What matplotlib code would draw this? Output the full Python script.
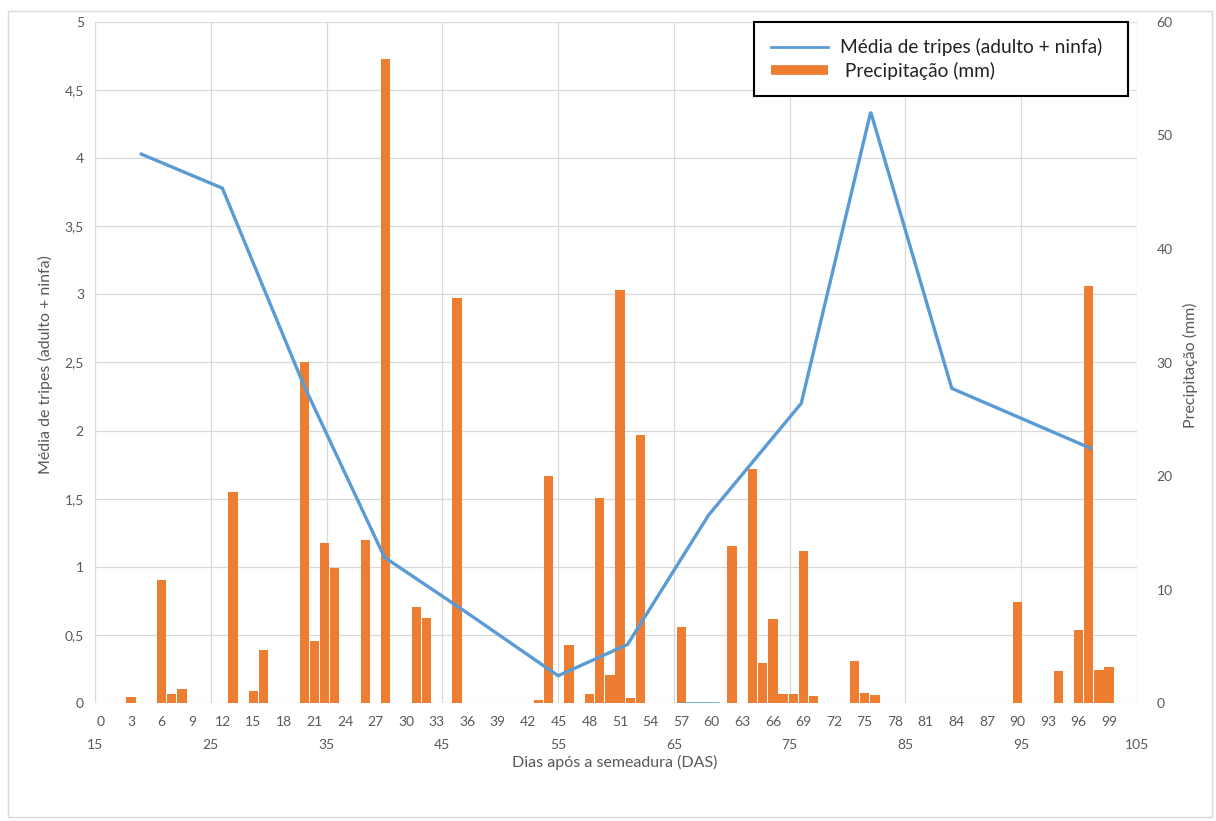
import numpy as np
import matplotlib.pyplot as plt
from matplotlib.lines import Line2D
from matplotlib.patches import Rectangle

plt.rcParams['font.family'] = ['Lato', 'DejaVu Sans']

# ---------------- data ----------------
rain_days = [3, 6, 7, 8, 13, 15, 16, 20, 21, 22, 23, 26, 28, 31, 32, 35,
             43, 44, 46, 48, 49, 50, 51, 52, 53, 57, 62, 64, 65, 66, 67, 68,
             69, 70, 74, 75, 76, 90, 94, 96, 97, 98, 99]
rain_mm = [0.5, 10.8, 0.8, 1.2, 18.6, 1.1, 4.7, 30.0, 5.5, 14.1, 11.9, 14.4,
           56.7, 8.5, 7.5, 35.7, 0.3, 20.0, 5.1, 0.8, 18.1, 2.5, 36.4, 0.4,
           23.6, 6.7, 13.8, 20.6, 3.5, 7.4, 0.8, 0.8, 13.4, 0.6, 3.7, 0.9,
           0.7, 8.9, 2.8, 6.4, 36.7, 2.9, 3.2]

das = [19, 26, 33, 40, 47, 55, 61, 68, 76, 82, 89, 101]
thrips_mean = [4.03, 3.78, 2.34, 1.07, 0.67, 0.20, 0.43, 1.38, 2.20, 4.34, 2.31, 1.87]

# short flat segment at zero that shows up in the original chart
zero_das = [65.5, 68.8]
zero_vals = [0.0, 0.0]

day_ticks = list(range(0, 100, 3))
das_ticks = list(range(15, 106, 10))
left_ticks = [0, 0.5, 1, 1.5, 2, 2.5, 3, 3.5, 4, 4.5, 5]
right_ticks = [0, 10, 20, 30, 40, 50, 60]

# ---------------- style ----------------
BLUE = '#5B9BD5'
ORANGE = '#ED7D31'
GRID = '#D9D9D9'
TXT = '#595959'
TICK_FS = 10
TITLE_FS = 11.5

W, H = 1216, 821
fig = plt.figure(figsize=(W / 100, H / 100), dpi=100)
rect = [95 / W, 118 / H, 1042 / W, 681 / H]

# bottom axes: line coordinates, gridlines, left y axis, second x row
ax_grid = fig.add_axes(rect)
ax_grid.set_xlim(15, 105)
ax_grid.set_ylim(0, 5)
ax_grid.set_xticks(das_ticks)
ax_grid.set_yticks(left_ticks)
ax_grid.set_yticklabels([f'{v:g}'.replace('.', ',') for v in left_ticks])
ax_grid.grid(True, color=GRID, lw=0.9)
ax_grid.set_axisbelow(True)
for s in ax_grid.spines.values():
    s.set_visible(False)
ax_grid.tick_params(axis='x', length=0, pad=26, labelsize=TICK_FS, colors=TXT)
ax_grid.tick_params(axis='y', length=0, pad=8, labelsize=TICK_FS, colors=TXT)

# middle axes: precipitation bars, right y axis, first x row
ax_bar = fig.add_axes(rect, facecolor='none')
ax_bar.bar(rain_days, rain_mm, width=0.92, color=ORANGE, zorder=2)
ax_bar.set_xlim(-0.53, 101.73)
ax_bar.set_ylim(0, 60)
ax_bar.set_xticks(day_ticks)
ax_bar.yaxis.tick_right()
ax_bar.set_yticks(right_ticks)
for s in ax_bar.spines.values():
    s.set_visible(False)
ax_bar.tick_params(axis='x', length=0, pad=9, labelsize=TICK_FS, colors=TXT)
ax_bar.tick_params(axis='y', length=0, pad=14, labelsize=TICK_FS, colors=TXT)

# top axes: thrips line
ax_line = fig.add_axes(rect, facecolor='none')
ax_line.set_xlim(15, 105)
ax_line.set_ylim(0, 5)
ax_line.plot(das, thrips_mean, color=BLUE, lw=2.4, solid_joinstyle='miter')
ax_line.plot(zero_das, zero_vals, color=BLUE, lw=1.8)
ax_line.axis('off')

# axis titles
fig.text(45 / W, 1 - 365 / H, 'Média de tripes (adulto + ninfa)', rotation=90,
         ha='center', va='center', fontsize=TITLE_FS, color=TXT)
fig.text(1190 / W, 1 - 365 / H, 'Precipitação (mm)', rotation=90,
         ha='center', va='center', fontsize=TITLE_FS, color=TXT)
fig.text(615 / W, 1 - 762 / H, 'Dias após a semeadura (DAS)',
         ha='center', va='center', fontsize=TITLE_FS, color=TXT)

# legend
handles = [Line2D([], [], color=BLUE, lw=2),
           Line2D([], [], color=ORANGE, lw=7, solid_capstyle='butt')]
labels = ['Média de tripes (adulto + ninfa)  ', ' Precipitação (mm)']
leg = fig.legend(handles, labels, loc='upper right',
                 bbox_to_anchor=(1128 / W, 1 - 22 / H), fontsize=13.8,
                 frameon=True, fancybox=False, framealpha=1, edgecolor='black',
                 borderpad=0.85, labelspacing=0.3, handlelength=3.0,
                 handletextpad=0.6, borderaxespad=0)
leg.get_frame().set_linewidth(1.5)
for t in leg.get_texts():
    t.set_color('#222222')

# light outer chart border
fig.patches.append(Rectangle((8 / W, 4 / H), 1204 / W, 806 / H,
                             transform=fig.transFigure, fill=False,
                             edgecolor=GRID, lw=1))

fig.savefig('out.png', dpi=100)
